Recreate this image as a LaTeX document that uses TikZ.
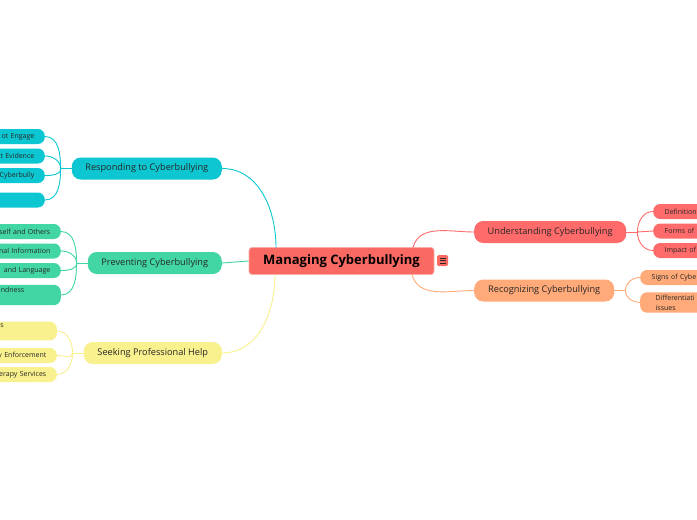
\documentclass[tikz,border=0pt]{standalone}
\usepackage{fontspec}
\setmainfont{Open Sans}
\definecolor{rootred}{HTML}{FA6A62}
\definecolor{undred}{HTML}{FF6B6B}
\definecolor{recorange}{HTML}{FFAA78}
\definecolor{respcyan}{HTML}{0CC7D1}
\definecolor{prevgreen}{HTML}{42D6A4}
\definecolor{seekyellow}{HTML}{F9F08E}
\definecolor{inkgray}{HTML}{262626}
\tikzset{
  root/.style={rectangle,rounded corners=3pt,fill=rootred,draw=rootred!55!white,line width=0.8pt,
    minimum width=185pt,minimum height=27pt,inner sep=0pt,
    font=\fontsize{13}{15}\selectfont\bfseries,text=black},
  branch/.style={rectangle,rounded corners=9pt,minimum height=22pt,inner sep=0pt,
    font=\fontsize{9.2}{11}\selectfont,text=inkgray},
  leafL/.style={rectangle,rounded corners=7pt,anchor=east,minimum height=15pt,inner xsep=10.5pt,
    inner ysep=2.5pt,text width=90pt,align=right,font=\fontsize{7}{10}\selectfont,text=inkgray},
  leafR/.style={rectangle,rounded corners=7pt,anchor=west,minimum height=15pt,inner xsep=11.5pt,
    inner ysep=2.5pt,text width=90pt,align=left,font=\fontsize{7}{10}\selectfont,text=inkgray},
  link/.style={line width=0.9pt}
}
\begin{document}
\begin{tikzpicture}[x=1pt,y=-1pt]
  \useasboundingbox[fill=white] (0,0) rectangle (697,520);
  % central topic
  \node[root] (root) at (341.5,261) {Managing Cyberbullying};
  \node[rectangle,rounded corners=1.5pt,fill=rootred,minimum size=11pt,inner sep=0pt] (menu) at (442.5,260.5) {};
  \foreach \dy in {-2.5,0,2.5}
    \draw[inkgray,line width=0.9pt] ([xshift=-3pt,yshift=\dy pt]menu.center) -- ([xshift=3pt,yshift=\dy pt]menu.center);
  % main branches
  \node[branch,fill=undred,minimum width=152pt,anchor=west] (und) at (474,232) {Understanding Cyberbullying};
  \node[branch,fill=recorange,minimum width=140pt,anchor=west] (rec) at (474,290.5) {Recognizing Cyberbullying};
  \node[branch,fill=respcyan,minimum width=150pt,anchor=east] (resp) at (222,168.5) {Responding to Cyberbullying};
  \node[branch,fill=prevgreen,minimum width=134pt,anchor=east] (prev) at (222,263) {Preventing Cyberbullying};
  \node[branch,fill=seekyellow,minimum width=138pt,anchor=east] (seek) at (222,353) {Seeking Professional Help};
  \coordinate (rootNE) at (413,247.5);
  \coordinate (rootSE) at (412,274.5);
  \coordinate (rootNW) at (276,247.5);
  \coordinate (rootSW) at (275,274.5);
  \draw[link,undred] (rootNE) to[out=75,in=180] (und.west);
  \draw[link,recorange] (rootSE) to[out=-75,in=180] (rec.west);
  \draw[link,respcyan] (resp.east) to[out=0,in=90] (rootNW);
  \draw[link,prevgreen] (prev.east) -- (root.west);
  \draw[link,seekyellow] (seek.east) to[out=0,in=-90] (rootSW);
  % understanding
  \node[leafR,fill=undred] (und1) at (653,211.5) {Definition};
  \node[leafR,fill=undred] (und2) at (653,231) {Forms of C};
  \node[leafR,fill=undred] (und3) at (653,250.5) {Impact of};
  \draw[link,undred] (und.east) -- ++(11,0) coordinate (undJ);
  \draw[link,undred] (undJ) to[out=90,in=180] (und1.west);
  \draw[link,undred] (undJ) -- (und2.west);
  \draw[link,undred] (undJ) to[out=-90,in=180] (und3.west);
  % recognizing
  \node[leafR,fill=recorange] (rec1) at (640,277.5) {Signs of Cybe};
  \node[leafR,fill=recorange] (rec2) at (640,302.5) {\hspace*{4pt}Differentiati\\\hspace*{4pt}issues};
  \draw[link,recorange] (rec.east) -- ++(11,0) coordinate (recJ);
  \draw[link,recorange] (recJ) to[out=90,in=180] (rec1.west);
  \draw[link,recorange] (recJ) to[out=-90,in=180] (rec2.west);
  % responding
  \node[leafL,fill=respcyan] (resp1) at (45,136.5) {ot Engage};
  \node[leafL,fill=respcyan] (resp2) at (45,156) {t Evidence};
  \node[leafL,fill=respcyan] (resp3) at (45,175.5) {Cyberbully};
  \node[leafL,fill=respcyan] (resp4) at (45,200) {\mbox{}\\\mbox{}};
  \draw[link,respcyan] (resp.west) -- ++(-11,0) coordinate (respJ);
  \draw[link,respcyan] (respJ) to[out=90,in=0] (resp1.east);
  \draw[link,respcyan] (respJ) to[out=90,in=0] (resp2.east);
  \draw[link,respcyan] (respJ) to[out=-90,in=0] (resp3.east);
  \draw[link,respcyan] (respJ) to[out=-90,in=0] (resp4.east);
  % preventing
  \node[leafL,fill=prevgreen] (prev1) at (61,231.5) {self and Others};
  \node[leafL,fill=prevgreen] (prev2) at (61,251) {nal Information};
  \node[leafL,fill=prevgreen] (prev3) at (61,270.5) {and Language};
  \node[leafL,fill=prevgreen] (prev4) at (61,295) {ndness\rule{26pt}{0pt}\\\mbox{}};
  \draw[link,prevgreen] (prev.west) -- ++(-11,0) coordinate (prevJ);
  \draw[link,prevgreen] (prevJ) to[out=90,in=0] (prev1.east);
  \draw[link,prevgreen] (prevJ) to[out=90,in=0] (prev2.east);
  \draw[link,prevgreen] (prevJ) to[out=-90,in=0] (prev3.east);
  \draw[link,prevgreen] (prevJ) to[out=-90,in=0] (prev4.east);
  % seeking help
  \node[leafL,fill=seekyellow] (seek1) at (57,331) {es\rule{42.5pt}{0pt}\\\mbox{}};
  \node[leafL,fill=seekyellow] (seek2) at (57,355.5) {y Enforcement};
  \node[leafL,fill=seekyellow] (seek3) at (57,374.5) {erapy Services};
  \draw[link,seekyellow] (seek.west) -- ++(-11,0) coordinate (seekJ);
  \draw[link,seekyellow] (seekJ) to[out=90,in=0] (seek1.east);
  \draw[link,seekyellow] (seekJ) to[out=-90,in=0] (seek2.east);
  \draw[link,seekyellow] (seekJ) to[out=-90,in=0] (seek3.east);
\end{tikzpicture}
\end{document}
